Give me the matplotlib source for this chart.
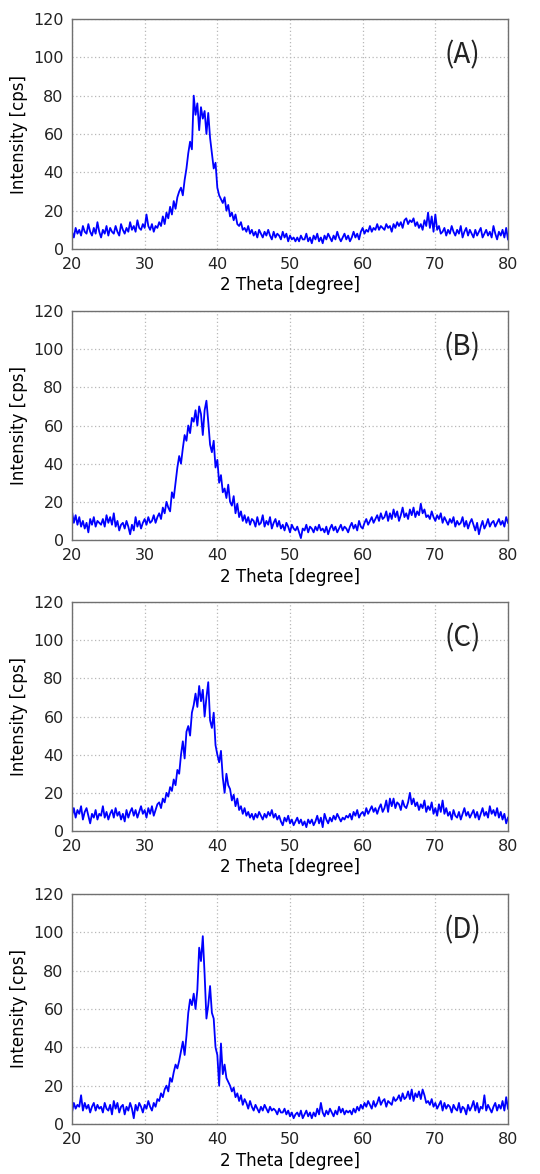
import numpy as np
import matplotlib
matplotlib.use('Agg')
import matplotlib.pyplot as plt

# scan grid, 20-80 deg in 0.25 deg steps
two_theta = np.linspace(20, 80, 241)

# intensities, one row per degree
int_a = [
    9, 6, 11, 8, 10, 7, 12, 9, 8, 13, 9, 7, 11, 8, 14, 9,
    6, 10, 8, 12, 7, 11, 9, 8, 12, 9, 7, 13, 10, 8, 11, 9,
    14, 10, 12, 9, 15, 11, 10, 13, 11, 18, 12, 10, 13, 9, 12, 11,
    14, 12, 17, 13, 19, 16, 22, 18, 25, 21, 27, 30, 32, 28, 36, 42,
    50, 56, 52, 80, 70, 76, 62, 74, 68, 72, 60, 71, 58, 50, 42, 45,
    32, 28, 26, 24, 27, 20, 23, 17, 19, 15, 18, 13, 12, 14, 10, 11,
    9, 12, 8, 10, 7, 9, 6, 10, 8, 6, 9, 7, 10, 7, 5, 9,
    6, 8, 7, 5, 9, 6, 8, 4, 7, 5, 6, 4, 6, 4, 7, 5,
    5, 8, 4, 6, 3, 7, 5, 8, 4, 6, 3, 7, 5, 8, 6, 4,
    7, 5, 9, 6, 4, 6, 8, 5, 7, 4, 6, 9, 6, 8, 5, 9,
    11, 8, 10, 9, 12, 9, 11, 10, 13, 10, 12, 11, 10, 13, 11, 12,
    9, 13, 11, 14, 12, 14, 11, 15, 16, 13, 15, 14, 16, 12, 14, 11,
    13, 10, 15, 12, 19, 11, 17, 9, 18, 10, 12, 8, 9, 11, 7, 10,
    8, 12, 9, 7, 10, 8, 12, 6, 9, 11, 7, 10, 8, 6, 10, 7,
    9, 11, 6, 8, 10, 7, 9, 6, 12, 8, 5, 9, 7, 10, 6, 11,
    5,
]

int_b = [
    15, 9, 13, 8, 12, 7, 10, 6, 9, 4, 11, 8, 12, 7, 10, 9,
    8, 11, 7, 13, 9, 12, 8, 14, 7, 10, 5, 8, 9, 6, 10, 7,
    3, 8, 5, 12, 7, 10, 6, 9, 11, 8, 12, 9, 10, 13, 9, 12,
    14, 11, 17, 14, 20, 17, 15, 25, 22, 30, 38, 44, 40, 48, 55, 52,
    60, 56, 64, 62, 68, 60, 70, 66, 55, 68, 73, 62, 50, 46, 52, 38,
    42, 30, 34, 25, 27, 22, 29, 20, 18, 23, 14, 19, 12, 15, 10, 13,
    9, 12, 8, 11, 10, 7, 12, 8, 9, 13, 7, 10, 8, 12, 6, 9,
    11, 7, 10, 6, 8, 5, 9, 7, 4, 8, 6, 5, 7, 4, 1, 6,
    5, 8, 4, 7, 6, 4, 7, 5, 8, 5, 6, 4, 7, 3, 6, 8,
    5, 7, 4, 6, 8, 5, 7, 6, 4, 7, 9, 6, 8, 5, 10, 7,
    6, 9, 11, 8, 10, 12, 9, 11, 13, 10, 14, 11, 12, 15, 10, 14,
    11, 16, 12, 15, 10, 13, 17, 12, 14, 11, 16, 13, 17, 12, 15, 13,
    19, 14, 16, 12, 13, 11, 15, 12, 10, 13, 11, 14, 9, 12, 10, 8,
    11, 9, 12, 7, 10, 8, 9, 12, 7, 10, 6, 9, 11, 8, 5, 9,
    3, 7, 10, 6, 8, 11, 7, 9, 10, 7, 9, 11, 8, 10, 7, 12,
    9,
]

int_c = [
    8, 12, 7, 11, 9, 13, 6, 10, 12, 8, 4, 9, 7, 11, 6, 9,
    8, 13, 7, 10, 6, 9, 11, 7, 12, 8, 10, 6, 9, 5, 11, 7,
    10, 12, 8, 11, 7, 10, 13, 9, 11, 7, 12, 9, 13, 8, 11, 14,
    15, 12, 17, 15, 20, 18, 23, 21, 27, 24, 32, 30, 40, 47, 38, 52,
    55, 50, 62, 66, 72, 65, 76, 68, 74, 60, 70, 78, 58, 54, 62, 45,
    40, 36, 42, 28, 20, 30, 24, 22, 16, 19, 13, 17, 11, 13, 9, 12,
    8, 10, 7, 9, 6, 9, 7, 10, 8, 6, 9, 7, 10, 8, 11, 7,
    9, 6, 8, 5, 3, 7, 5, 8, 4, 6, 3, 5, 7, 4, 6, 3,
    5, 2, 6, 4, 6, 3, 5, 8, 4, 7, 2, 9, 6, 4, 7, 5,
    8, 6, 9, 7, 5, 7, 6, 8, 7, 9, 6, 10, 8, 11, 7, 9,
    10, 8, 12, 9, 11, 13, 10, 12, 9, 12, 14, 10, 12, 16, 10, 17,
    13, 17, 12, 15, 14, 11, 16, 13, 12, 15, 20, 14, 17, 13, 15, 11,
    14, 12, 16, 10, 13, 11, 15, 9, 12, 8, 14, 10, 16, 9, 12, 8,
    10, 6, 11, 8, 7, 10, 6, 9, 12, 8, 10, 7, 9, 11, 7, 10,
    6, 9, 12, 8, 10, 7, 13, 9, 11, 8, 12, 7, 10, 6, 9, 4,
    7,
]

int_d = [
    6, 11, 8, 10, 9, 15, 7, 11, 8, 10, 6, 9, 11, 7, 10, 8,
    9, 6, 11, 8, 7, 10, 5, 12, 8, 11, 6, 9, 10, 5, 9, 7,
    11, 8, 3, 10, 7, 11, 9, 6, 10, 8, 12, 9, 7, 11, 9, 13,
    12, 16, 14, 18, 20, 17, 24, 22, 27, 31, 29, 33, 38, 43, 36, 46,
    58, 65, 62, 68, 60, 70, 92, 85, 98, 78, 55, 62, 72, 58, 55, 40,
    36, 20, 42, 26, 31, 24, 22, 20, 17, 19, 14, 16, 12, 15, 10, 13,
    11, 8, 12, 9, 7, 10, 8, 6, 9, 7, 10, 8, 6, 9, 7, 8,
    7, 5, 8, 6, 6, 8, 5, 7, 4, 6, 3, 5, 6, 4, 7, 3,
    5, 7, 4, 6, 3, 6, 4, 8, 5, 11, 6, 4, 7, 5, 8, 6,
    4, 7, 5, 9, 6, 8, 5, 7, 6, 7, 5, 8, 6, 9, 7, 10,
    8, 11, 9, 12, 10, 8, 12, 9, 11, 14, 10, 12, 13, 9, 12, 11,
    10, 14, 12, 13, 15, 12, 16, 13, 14, 17, 13, 18, 12, 16, 14, 17,
    13, 18, 15, 11, 12, 10, 13, 9, 11, 8, 10, 12, 7, 11, 8, 10,
    9, 6, 10, 8, 7, 11, 6, 9, 8, 5, 10, 7, 9, 12, 7, 11,
    6, 9, 8, 15, 7, 10, 8, 6, 9, 11, 7, 10, 8, 12, 7, 14,
    8,
]

panels = ['(A)', '(B)', '(C)', '(D)']
series = [int_a, int_b, int_c, int_d]

fig = plt.figure(figsize=(5.4, 11.74), dpi=100)

# axes boxes in pixels: top edge and bottom edge of each panel
tops = [19, 311, 602, 894]
bottoms = [249, 540, 831, 1124]
W, H = 540, 1174

for lab, y, top, bot in zip(panels, series, tops, bottoms):
    ax = fig.add_axes([72 / W, 1 - bot / H, (508 - 72) / W, (bot - top) / H])
    ax.plot(two_theta, y, color='#0000ff', lw=1.3)
    ax.set_xlim(20, 80)
    ax.set_ylim(0, 120)
    ax.set_xticks(range(20, 81, 10))
    ax.set_yticks(range(0, 121, 20))
    ax.grid(True, linestyle=(0, (1, 2)), color='#b8b8b8', lw=0.9)
    ax.tick_params(length=0, labelsize=11.5, colors='#222222')
    ax.tick_params(axis='y', pad=6)
    ax.tick_params(axis='x', pad=6)
    for s in ax.spines.values():
        s.set_color('#707070')
        s.set_linewidth(1.0)
    ax.set_xlabel('2 Theta [degree]', fontsize=12, labelpad=3)
    ax.set_ylabel('Intensity [cps]', fontsize=12, labelpad=4)
    ax.text(73.7, 101, lab, fontsize=20, ha='center', va='center',
            color='#222222', family=['Noto Sans CJK JP', 'DejaVu Sans'])

fig.savefig('out.png', dpi=100)
